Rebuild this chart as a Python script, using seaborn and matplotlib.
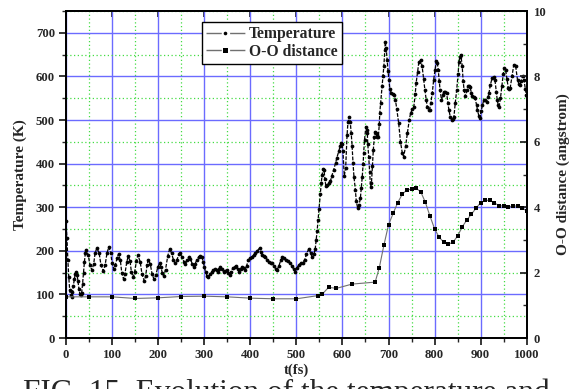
import matplotlib
matplotlib.use("Agg")
import matplotlib.pyplot as plt
from matplotlib.lines import Line2D
from matplotlib.ticker import MultipleLocator
import seaborn as sns

# Temperature trajectory (time in fs, temperature in K)
time_temp = [
    0, 2, 4, 6, 8, 10, 12, 14, 16, 18, 20, 22, 24, 26, 28, 30, 32, 34, 36, 38,
    40, 42, 44, 48, 52, 56, 60, 63, 67, 72, 76, 81, 85, 89, 93, 97, 100, 104, 107, 111,
    114, 118, 121, 125, 128, 132, 135, 139, 142, 146, 149, 153, 156, 161, 165, 170, 173, 176, 179, 183,
    187, 191, 195, 199, 203, 206, 209, 212, 216, 221, 225, 229, 233, 237, 241, 245, 248, 252, 256, 259,
    263, 266, 270, 274, 277, 280, 284, 288, 291, 295, 298, 300, 303, 306, 309, 313, 317, 320, 324, 327,
    329, 332, 335, 338, 342, 345, 349, 352, 355, 358, 362, 366, 370, 373, 375, 379, 382, 386, 389, 392,
    396, 400, 404, 407, 411, 415, 420, 423, 425, 429, 433, 437, 440, 444, 447, 451, 455, 458, 462, 466,
    469, 473, 478, 482, 487, 490, 494, 498, 501, 505, 509, 514, 518, 522, 527, 531, 534, 538, 541, 543,
    545, 547, 549, 552, 554, 556, 558, 560, 562, 564, 567, 571, 574, 577, 581, 585, 588, 592, 595, 597,
    599, 601, 604, 607, 610, 612, 615, 617, 619, 621, 623, 625, 628, 630, 633, 636, 639, 641, 643, 645,
    646, 648, 651, 653, 654, 655, 657, 659, 661, 663, 665, 667, 669, 670, 672, 674, 676, 678, 680, 681,
    683, 686, 688, 690, 692, 693, 695, 697, 699, 701, 703, 706, 709, 712, 715, 718, 722, 726, 730, 733,
    737, 741, 745, 748, 752, 755, 758, 760, 763, 766, 770, 773, 776, 779, 782, 784, 787, 789, 792, 795,
    798, 801, 804, 806, 808, 810, 812, 815, 818, 820, 823, 826, 829, 831, 834, 837, 840, 842, 845, 848,
    851, 853, 855, 857, 860, 862, 864, 867, 870, 872, 875, 877, 880, 882, 885, 888, 891, 893, 896, 898,
    901, 904, 907, 910, 913, 916, 918, 921, 925, 928, 931, 934, 936, 938, 940, 943, 946, 949, 951, 954,
    957, 960, 962, 964, 968, 972, 976, 980, 983, 985, 988, 991, 994, 997, 999, 1000,
]
temperature = [
    268, 230, 180, 140, 110, 98, 95, 105, 120, 135, 146, 151, 145, 130, 113, 102, 99, 104, 125, 150,
    175, 195, 203, 191, 168, 156, 169, 194, 207, 194, 167, 154, 168, 195, 209, 196, 171, 158, 167, 184,
    193, 178, 150, 135, 148, 175, 188, 176, 151, 139, 152, 177, 190, 175, 146, 131, 143, 168, 180, 169,
    146, 135, 144, 162, 171, 164, 149, 142, 157, 189, 204, 195, 180, 172, 180, 192, 194, 185, 175, 170,
    178, 185, 182, 170, 164, 170, 179, 186, 188, 185, 175, 164, 152, 143, 139, 146, 152, 156, 158, 155,
    152, 158, 164, 158, 152, 154, 156, 150, 145, 152, 160, 163, 165, 158, 152, 158, 164, 160, 156, 166,
    179, 183, 187, 190, 194, 200, 206, 197, 190, 188, 185, 180, 175, 173, 171, 165, 159, 156, 165, 178,
    185, 183, 179, 176, 171, 165, 158, 152, 160, 168, 171, 173, 180, 192, 205, 195, 186, 192, 205, 225,
    245, 270, 295, 330, 355, 375, 388, 385, 365, 348, 350, 355, 360, 372, 386, 401, 414, 428, 440, 447,
    445, 430, 372, 390, 465, 495, 508, 495, 470, 440, 401, 370, 340, 315, 298, 305, 321, 345, 370, 400,
    424, 455, 485, 478, 470, 445, 416, 380, 347, 355, 395, 431, 460, 473, 470, 466, 462, 462, 490, 516,
    540, 577, 600, 625, 660, 680, 665, 638, 612, 592, 570, 563, 560, 558, 546, 525, 493, 450, 424, 416,
    440, 470, 500, 516, 525, 531, 560, 585, 610, 634, 638, 623, 595, 569, 545, 531, 524, 523, 540, 562,
    592, 615, 636, 630, 615, 590, 569, 546, 558, 565, 565, 562, 540, 523, 508, 500, 503, 508, 540, 569,
    605, 634, 645, 650, 623, 590, 569, 554, 568, 577, 577, 575, 562, 554, 552, 550, 535, 523, 510, 504,
    520, 535, 546, 545, 542, 552, 562, 580, 597, 598, 592, 565, 546, 535, 531, 550, 577, 605, 619, 615,
    595, 573, 570, 573, 600, 627, 623, 592, 583, 581, 590, 601, 592, 572, 558, 555,
]

# O-O distance trajectory (time in fs, distance in angstrom)
time_oo = [
    0, 50, 100, 150, 200, 250, 300, 350, 400, 450, 500, 548, 556, 570, 587, 621, 671,
    680, 690, 700, 710, 720, 730, 740, 750, 760, 770, 780, 790, 800, 810, 820, 830,
    840, 850, 860, 870, 880, 890, 900, 910, 920, 930, 940, 950, 960, 970, 980, 990, 1000,
]
oo_distance = [
    1.26, 1.26, 1.26, 1.21, 1.23, 1.27, 1.28, 1.26, 1.22, 1.20, 1.20, 1.30, 1.34, 1.55, 1.52, 1.65, 1.71,
    2.15, 2.84, 3.46, 3.81, 4.14, 4.40, 4.53, 4.55, 4.58, 4.47, 4.15, 3.73, 3.34, 3.08, 2.93, 2.87,
    2.93, 3.12, 3.40, 3.61, 3.79, 3.97, 4.14, 4.21, 4.21, 4.13, 4.05, 4.03, 4.02, 4.03, 4.04, 3.99, 3.88,
]

x_ticks = list(range(0, 1001, 100))
left_ticks = list(range(0, 701, 100))
right_ticks = [0, 2, 4, 6, 8, 10]

sns.set_style("white")
plt.rcParams["font.family"] = ["Liberation Serif", "DejaVu Serif"]
plt.rcParams["font.weight"] = "bold"
plt.rcParams["axes.labelweight"] = "bold"

fig = plt.figure(figsize=(5.69, 3.89), dpi=100)
ax = fig.add_axes([0.116, 0.131, 0.8097, 0.8407])
ax2 = ax.twinx()

major_grid = "#6b6bff"
minor_grid = "#44dd44"

sns.lineplot(x=time_temp, y=temperature, ax=ax, color="black", linewidth=0.9,
             linestyle=(0, (3, 1.2)), marker="o", markersize=2.7,
             markeredgewidth=0, markerfacecolor="black", zorder=4)
sns.lineplot(x=time_oo, y=oo_distance, ax=ax2, color="#707070", linewidth=0.8,
             marker="s", markersize=3.3, markeredgewidth=0,
             markerfacecolor="black", zorder=4)

ax.set_xlim(0, 1000)
ax.set_ylim(0, 750)
ax2.set_ylim(0, 10)

ax.set_xticks(x_ticks)
ax.xaxis.set_minor_locator(MultipleLocator(50))
ax.set_yticks(left_ticks)
ax.yaxis.set_minor_locator(MultipleLocator(50))
ax2.set_yticks(right_ticks)
ax2.yaxis.set_minor_locator(MultipleLocator(1))

ax.set_axisbelow(True)
ax.grid(which="major", color=major_grid, linewidth=1.0, linestyle="-")
ax.grid(which="minor", color=minor_grid, linewidth=0.9, linestyle=(0, (1, 2)))
ax2.grid(False)

tick_font = dict(labelsize=9.2)
ax.tick_params(axis="x", which="major", direction="out", length=5, width=1.3,
               bottom=True, top=False, pad=3, **tick_font)
ax.tick_params(axis="x", which="minor", direction="out", length=3, width=1.0,
               bottom=True, top=False)
ax.tick_params(axis="y", which="major", direction="out", length=5, width=1.3,
               left=True, right=False, pad=3, **tick_font)
ax.tick_params(axis="y", which="minor", direction="out", length=3, width=1.0,
               left=True, right=False)
ax2.tick_params(axis="y", which="major", direction="in", length=5, width=1.3,
                right=True, left=False, pad=5, **tick_font)
ax2.tick_params(axis="y", which="minor", direction="in", length=3, width=1.0,
                right=True, left=False)

top_axis = ax.secondary_xaxis("top")
top_axis.set_xticks(x_ticks)
top_axis.tick_params(direction="in", length=4, width=1.3, labeltop=False)

for a in (ax, ax2):
    for spine in a.spines.values():
        spine.set_linewidth(1.3)
        spine.set_color("black")
for spine in top_axis.spines.values():
    spine.set_linewidth(1.3)

ax.set_xlabel("t(fs)", fontsize=10.5, labelpad=1.5)
ax.set_ylabel("Temperature (K)", fontsize=11, labelpad=6)
ax2.set_ylabel("O-O distance (angstrom)", fontsize=11, labelpad=7)

handles = [
    Line2D([], [], color="#707070", linewidth=1.0, linestyle=(0, (11, 6)),
           marker="o", markersize=2.6, markerfacecolor="black", markeredgewidth=0),
    Line2D([], [], color="#707070", linewidth=1.0, linestyle=(0, (11, 6)),
           marker="s", markersize=3.6, markerfacecolor="black", markeredgewidth=0),
]
leg = ax2.legend(handles, ["Temperature", "O-O distance"], loc="upper left",
                 bbox_to_anchor=(0.295, 0.966), borderaxespad=0, frameon=True,
                 fancybox=False, edgecolor="black", framealpha=1,
                 prop={"family": "Liberation Serif", "weight": "bold", "size": 11.3},
                 handlelength=2.5, handletextpad=0.25, labelspacing=0.12,
                 borderpad=0.25)
leg.get_frame().set_linewidth(1.0)
leg.set_zorder(10)

fig.text(0.040, -0.032, "FIG. 15. Evolution of the temperature and",
         fontsize=22.5, fontweight="normal", va="baseline", ha="left",
         family=["Liberation Serif", "DejaVu Serif"])

fig.savefig("out.png", dpi=100)
